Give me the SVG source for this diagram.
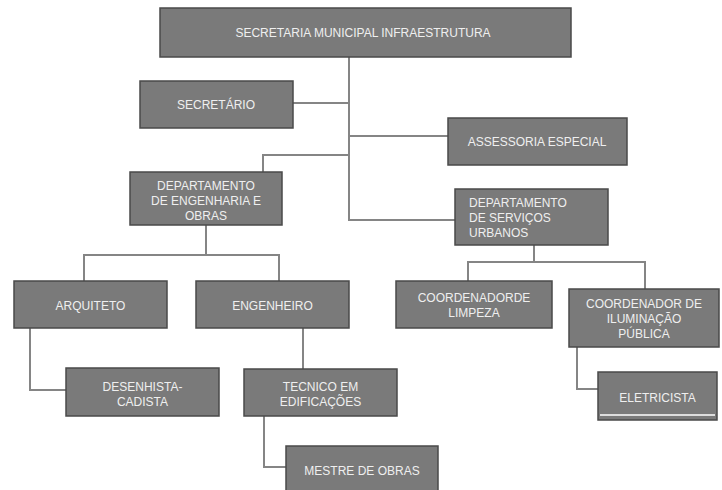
<svg xmlns="http://www.w3.org/2000/svg" width="722" height="490" viewBox="0 0 722 490">
<style>
.box{fill:#7a7a7a;stroke:#4a4a4a;stroke-width:1.5}
.t{font-family:"Liberation Sans",Arial,sans-serif;font-size:12px;fill:#efefef;text-anchor:middle}
.tl{font-family:"Liberation Sans",Arial,sans-serif;font-size:12px;fill:#efefef}
.c{fill:none;stroke:#858585;stroke-width:2}
</style>
<rect width="722" height="490" fill="#ffffff"/>
<g id="connectors">
<path class="c" d="M349 57 V220 H455"/>
<path class="c" d="M293 103 H349"/>
<path class="c" d="M349 136 H448"/>
<path class="c" d="M349 155 H263 V172"/>
<path class="c" d="M206 225 V255 M84 281 V255 H279 V281"/>
<path class="c" d="M534 245 V262 M468 281 V262 H645 V289"/>
<path class="c" d="M30 328 V390 H66"/>
<path class="c" d="M303 328 V369"/>
<path class="c" d="M264 416 V467 H286"/>
<path class="c" d="M577 347 V389 H598"/>
</g>
<g id="n-secretaria"><rect class="box" x="160" y="8" width="411" height="49"/><text class="t" x="363" y="36.5">SECRETARIA MUNICIPAL INFRAESTRUTURA</text></g>
<g id="n-secretario"><rect class="box" x="140" y="81" width="153" height="47"/><text class="t" x="216" y="108.5">SECRETÁRIO</text></g>
<g id="n-assessoria"><rect class="box" x="448" y="118" width="179" height="47"/><text class="t" x="537" y="145.5">ASSESSORIA ESPECIAL</text></g>
<g id="n-deo"><rect class="box" x="130" y="172" width="152" height="53"/><text class="t" x="206" y="189.5">DEPARTAMENTO</text><text class="t" x="206" y="204.5">DE ENGENHARIA E</text><text class="t" x="206" y="219.5">OBRAS</text></g>
<g id="n-dsu"><rect class="box" x="455" y="189" width="153" height="56"/><text class="tl" x="469" y="206.5">DEPARTAMENTO</text><text class="tl" x="469" y="222">DE SERVIÇOS</text><text class="tl" x="469" y="236.5">URBANOS</text></g>
<g id="n-arquiteto"><rect class="box" x="14" y="281" width="153" height="47"/><text class="t" x="90.5" y="309.5">ARQUITETO</text></g>
<g id="n-engenheiro"><rect class="box" x="196" y="281" width="153" height="47"/><text class="t" x="272.5" y="309.5">ENGENHEIRO</text></g>
<g id="n-limpeza"><rect class="box" x="396" y="281" width="156" height="47"/><text class="t" x="474" y="301.5">COORDENADORDE</text><text class="t" x="474" y="316.5">LIMPEZA</text></g>
<g id="n-iluminacao"><rect class="box" x="569" y="289" width="150" height="58"/><text class="t" x="644" y="307.5">COORDENADOR DE</text><text class="t" x="644" y="322.5">ILUMINAÇÃO</text><text class="t" x="644" y="337.5">PÚBLICA</text></g>
<g id="n-desenhista"><rect class="box" x="66" y="368" width="153" height="48"/><text class="t" x="142.5" y="390.5">DESENHISTA-</text><text class="t" x="142.5" y="405.5">CADISTA</text></g>
<g id="n-tecnico"><rect class="box" x="244" y="369" width="153" height="47"/><text class="t" x="320.5" y="390.5">TECNICO EM</text><text class="t" x="320.5" y="405.5">EDIFICAÇÕES</text></g>
<g id="n-mestre"><rect class="box" x="286" y="446" width="152" height="50"/><text class="t" x="362" y="474.5">MESTRE DE OBRAS</text></g>
<g id="n-eletricista"><rect class="box" x="598" y="372" width="119" height="48"/><line x1="600" y1="415" x2="715" y2="415" stroke="#ffffff" stroke-width="1.5"/><text class="t" x="657.5" y="401.5">ELETRICISTA</text></g>
</svg>
